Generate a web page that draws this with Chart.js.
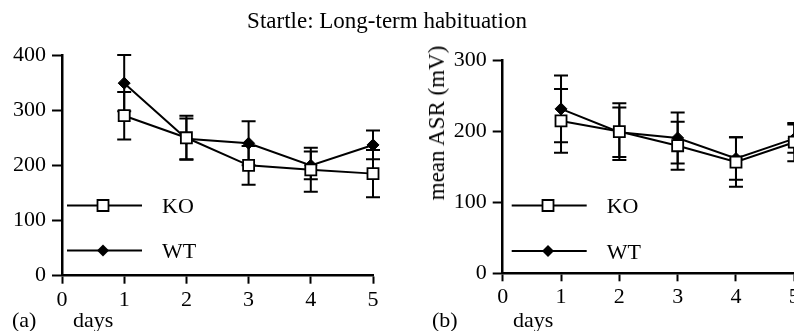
<!DOCTYPE html>
<html>
<head>
<meta charset="utf-8">
<script src="https://cdn.jsdelivr.net/npm/chart.js@4.4.1/dist/chart.umd.min.js"></script>
<style>
  html, body { margin:0; padding:0; background:#fff; }
  body { width:794px; height:331px; position:relative; overflow:hidden; font-family:"Liberation Serif", serif; color:#000; }
  .txt { position:absolute; font-size:22px; line-height:22px; white-space:nowrap; }
  #wrapA { position:absolute; left:0; top:0; width:400px; height:331px; }
  #wrapB { position:absolute; left:400px; top:0; width:394px; height:331px; overflow:hidden; }
</style>
</head>
<body>
<div id="wrapA"><canvas id="chartA" width="400" height="331"></canvas></div>
<div id="wrapB"><canvas id="chartB" width="430" height="331"></canvas></div>

<div class="txt" style="left:387px; top:10px; font-size:23px; transform:translateX(-50%);">Startle: Long-term habituation</div>
<div class="txt" style="left:12px; top:308.6px;">(a)</div>
<div class="txt" style="left:73px; top:308.6px;">days</div>
<div class="txt" style="left:432px; top:308.6px;">(b)</div>
<div class="txt" style="left:513px; top:308.6px;">days</div>
<div class="txt" style="left:436.5px; top:122.5px; font-size:23px; transform:translate(-50%,-50%) rotate(-90deg);">mean ASR (mV)</div>

<script>
// values
const days = [1, 2, 3, 4, 5];
const xTicks = [0, 1, 2, 3, 4, 5];

// (a)
const koA    = [290, 250, 200, 192, 185];
const koAErr = [43, 40, 35, 40, 43];
const wtA    = [349, 248, 240, 200, 237];
const wtAErr = [51, 37, 40, 25, 26];

// (b)
const koB    = [215, 200, 180, 157, 185];
const koBErr = [45, 40, 34, 35, 27];
const wtB    = [232, 199, 191, 162, 190];
const wtBErr = [47, 35, 36, 30, 20];

const legendLabels = ['KO', 'WT'];

const serif = '"Liberation Serif", serif';
Chart.defaults.font.family = serif;
Chart.defaults.color = '#000';

const errorBars = {
  id: 'errorBars',
  beforeDatasetsDraw(chart) {
    const ctx = chart.ctx, y = chart.scales.y, x = chart.scales.x;
    ctx.save();
    ctx.strokeStyle = '#000';
    ctx.lineWidth = 2;
    chart.data.datasets.forEach(ds => {
      ds.data.forEach((p, i) => {
        const e = ds.errors[i];
        const px = x.getPixelForValue(p.x);
        const top = y.getPixelForValue(p.y + e), bot = y.getPixelForValue(p.y - e);
        ctx.beginPath();
        ctx.moveTo(px, top); ctx.lineTo(px, bot);
        ctx.moveTo(px - 7, top); ctx.lineTo(px + 7, top);
        ctx.moveTo(px - 7, bot); ctx.lineTo(px + 7, bot);
        ctx.stroke();
      });
    });
    ctx.restore();
  }
};

const insideLegend = {
  id: 'insideLegend',
  afterDraw(chart, args, opts) {
    const ctx = chart.ctx, left = chart.chartArea.left;
    ctx.save();
    chart.data.datasets.forEach((ds, i) => {
      const yy = opts.rows[i];
      ctx.strokeStyle = '#000';
      ctx.lineWidth = 2;
      ctx.beginPath();
      ctx.moveTo(left + opts.x1, yy); ctx.lineTo(left + opts.x2, yy);
      ctx.stroke();
      const mx = left + opts.mx;
      ctx.beginPath();
      if (ds.pointStyle === 'rect') {
        ctx.rect(mx - 5.5, yy - 5.5, 11, 11);
        ctx.fillStyle = '#fff'; ctx.fill();
        ctx.lineWidth = 1.8; ctx.stroke();
      } else {
        ctx.moveTo(mx, yy - 6); ctx.lineTo(mx + 6, yy); ctx.lineTo(mx, yy + 6); ctx.lineTo(mx - 6, yy);
        ctx.closePath();
        ctx.fillStyle = '#000'; ctx.fill();
      }
      ctx.fillStyle = '#000';
      ctx.font = '22px ' + serif;
      ctx.textBaseline = 'alphabetic';
      ctx.fillText(legendLabels[i], left + opts.tx, yy + 7.5);
    });
    ctx.restore();
  }
};

function series(vals) { return days.map((d, i) => ({ x: d, y: vals[i] })); }

function makeChart(id, ko, koErr, wt, wtErr, yMax, pad, yW, legend) {
  return new Chart(document.getElementById(id), {
    type: 'line',
    data: {
      datasets: [
        { label: 'KO', data: series(ko), errors: koErr, borderColor: '#000', borderWidth: 2,
          pointStyle: 'rect', pointRadius: 7.8, pointBackgroundColor: '#fff', pointBorderColor: '#000', pointBorderWidth: 1.8 },
        { label: 'WT', data: series(wt), errors: wtErr, borderColor: '#000', borderWidth: 2,
          pointStyle: 'rectRot', pointRadius: 6, pointBackgroundColor: '#000', pointBorderColor: '#000', pointBorderWidth: 1 }
      ]
    },
    options: {
      responsive: false, animation: false, clip: false,
      layout: { padding: pad },
      plugins: { legend: { display: false }, tooltip: { enabled: false }, insideLegend: legend },
      scales: {
        x: {
          type: 'linear', min: 0, max: 5,
          afterBuildTicks: s => { s.ticks = xTicks.map(v => ({ value: v })); },
          afterFit: s => { s.height = 40; },
          ticks: { font: { family: serif, size: 22 }, color: '#000', padding: 3 },
          grid: { drawOnChartArea: false, drawTicks: true, tickLength: 8, tickWidth: 2, tickColor: '#000' },
          border: { color: '#000', width: 2.5 }
        },
        y: {
          min: 0, max: yMax,
          afterFit: s => { s.width = yW; },
          ticks: { stepSize: 100, font: { family: serif, size: 22 }, color: '#000', padding: 6 },
          grid: { drawOnChartArea: false, drawTicks: true, tickLength: 10, tickWidth: 2, tickColor: '#000' },
          border: { color: '#000', width: 2.5 }
        }
      }
    },
    plugins: [errorBars, insideLegend]
  });
}

makeChart('chartA', koA, koAErr, wtA, wtAErr, 400,
  { left: 0, top: 55, right: 27, bottom: 15.3 }, 62,
  { x1: 5, x2: 80, mx: 41, tx: 100, rows: [205.5, 250.5] });

makeChart('chartB', koB, koBErr, wtB, wtBErr, 300,
  { left: 0, top: 60.7, right: 35.7, bottom: 17.7 }, 102.7,
  { x1: 9, x2: 84, mx: 45.3, tx: 104, rows: [205.5, 251] });
</script>
</body>
</html>
